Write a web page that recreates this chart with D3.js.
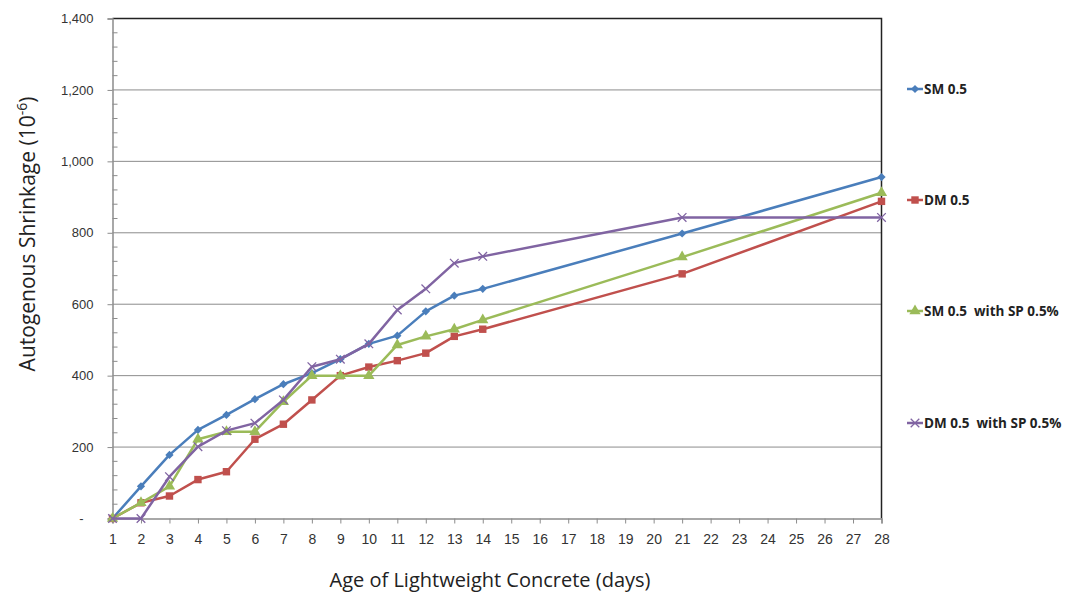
<!DOCTYPE html>
<html>
<head>
<meta charset="utf-8">
<script src="https://cdn.jsdelivr.net/npm/d3@7"></script>
<style>
  body { margin: 0; background: #fff; }
  svg { display: block; font-family: "Open Sans", "Noto Sans", sans-serif; }
</style>
</head>
<body>
<svg id="chart" width="1088" height="599"></svg>
<script>
// values
const days = [1, 2, 3, 4, 5, 6, 7, 8, 9, 10, 11, 12, 13, 14, 21, 28]
const sm05 = [0, 90, 178, 248, 290, 334, 376, 407, 446, 489, 512, 580, 624, 643, 798, 956]
const dm05 = [0, 44, 63, 109, 131, 222, 264, 332, 400, 424, 442, 463, 510, 530, 685, 888]
const smSp = [0, 44, 90, 222, 243, 243, 327, 400, 400, 400, 486, 510, 530, 556, 732, 912]
const dmSp = [0, 0, 117, 201, 246, 267, 332, 425, 446, 489, 584, 643, 715, 734, 843, 843]
const xTicks = d3.range(1, 29)
const yTicks = [0, 200, 400, 600, 800, 1000, 1200, 1400]

const series = [
  { name: 'SM 0.5', values: sm05, color: '#4a7ebb', symbol: d3.symbolSquare, size: 34, rot: 45 },
  { name: 'DM 0.5', values: dm05, color: '#c0504d', symbol: d3.symbolSquare, size: 55, rot: 0 },
  { name: 'SM 0.5  with SP 0.5%', values: smSp, color: '#9bbb59', symbol: d3.symbolTriangle, size: 55, rot: 0 },
  { name: 'DM 0.5  with SP 0.5%', values: dmSp, color: '#8064a2', symbol: d3.symbolX, size: 50, rot: 0 }
]

const margin = { top: 18.5, left: 112.5 }
const plotW = 769
const plotH = 500

const svg = d3.select('#chart')
const g = svg.append('g')
  .attr('transform', 'translate(' + margin.left + ',' + margin.top + ')')

const x = d3.scaleLinear().domain([1, 28]).range([0, plotW])
const y = d3.scaleLinear().domain([0, 1400]).range([plotH, 0])

// gridlines
g.append('g')
  .selectAll('line')
  .data(yTicks.filter(d => d > 0 && d < 1400))
  .join('line')
  .attr('x1', 0).attr('x2', plotW)
  .attr('y1', d => y(d)).attr('y2', d => y(d))
  .attr('stroke', '#8c8c8c')
  .attr('stroke-width', 1)

// frame (top and right)
g.append('path')
  .attr('d', `M0,${y(1400)}H${plotW}V${plotH}`)
  .attr('fill', 'none')
  .attr('stroke', '#222')
  .attr('stroke-width', 1.5)

// minor y ticks
g.append('g')
  .selectAll('line')
  .data(d3.range(0, 1401, 40).filter(d => d % 200 !== 0))
  .join('line')
  .attr('x1', 0).attr('x2', 5)
  .attr('y1', d => y(d)).attr('y2', d => y(d))
  .attr('stroke', '#8c8c8c')

const yAxis = d3.axisLeft(y)
  .tickValues(yTicks)
  .tickSize(5)
  .tickPadding(14)
  .tickFormat(d => d === 0 ? '-' : d3.format(',')(d))

const gy = g.append('g').call(yAxis)
gy.select('.domain').attr('stroke', '#8c8c8c').attr('stroke-width', 1.5)
gy.selectAll('.tick line').attr('stroke', '#8c8c8c')
gy.selectAll('.tick text')
  .attr('fill', '#333')
  .style('font-size', '13px')
gy.selectAll('.tick').filter(d => d === 0).select('text').attr('dx', -10)

const xAxis = d3.axisBottom(x)
  .tickValues(xTicks)
  .tickSize(5)
  .tickPadding(11)

const gx = g.append('g')
  .attr('transform', 'translate(0,' + plotH + ')')
  .call(xAxis)
gx.select('.domain').attr('stroke', '#8c8c8c').attr('stroke-width', 1.5)
gx.selectAll('.tick line').attr('stroke', '#8c8c8c')
gx.selectAll('.tick text')
  .attr('fill', '#333')
  .style('font-size', '14px')

// series
const line = d3.line()
  .x((d, i) => x(days[i]))
  .y(d => y(d))

function marker (sel, s) {
  const isX = s.symbol === d3.symbolX
  sel.attr('d', d3.symbol().type(s.symbol).size(s.size))
    .attr('fill', isX ? 'none' : s.color)
    .attr('stroke', isX ? s.color : 'none')
    .attr('stroke-width', 1.3)
}

series.forEach(s => {
  g.append('path')
    .datum(s.values)
    .attr('fill', 'none')
    .attr('stroke', s.color)
    .attr('stroke-width', 2.5)
    .attr('stroke-linejoin', 'round')
    .attr('d', line)

  g.append('g')
    .selectAll('path')
    .data(s.values)
    .join('path')
    .attr('transform', (d, i) => `translate(${x(days[i])},${y(d)}) rotate(${s.rot})`)
    .call(marker, s)
})

// legend
const legendY = [89, 200, 311, 423]
const legend = svg.append('g')
series.forEach((s, i) => {
  const lg = legend.append('g').attr('transform', `translate(907,${legendY[i]})`)
  lg.append('line')
    .attr('x1', 0).attr('x2', 16)
    .attr('stroke', s.color).attr('stroke-width', 2.5)
  lg.append('path')
    .attr('transform', `translate(8,0) rotate(${s.rot})`)
    .call(marker, s)
  lg.append('text')
    .attr('x', 17)
    .attr('dy', '0.35em')
    .attr('fill', '#222')
    .style('font-size', '13.5px')
    .style('font-weight', 'bold')
    .style('white-space', 'pre')
    .text(s.name)
})

// axis titles
const yTitle = svg.append('text')
  .attr('transform', 'translate(35,234) rotate(-90)')
  .attr('text-anchor', 'middle')
  .attr('fill', '#222')
  .style('font-size', '21px')
yTitle.append('tspan').text('Autogenous Shrinkage (10')
yTitle.append('tspan').attr('dy', -8).style('font-size', '14px').text('-6')
yTitle.append('tspan').attr('dy', 8).text(')')

svg.append('text')
  .attr('x', 490)
  .attr('y', 587)
  .attr('text-anchor', 'middle')
  .attr('fill', '#222')
  .style('font-size', '20px')
  .text('Age of Lightweight Concrete (days)')
</script>
</body>
</html>
